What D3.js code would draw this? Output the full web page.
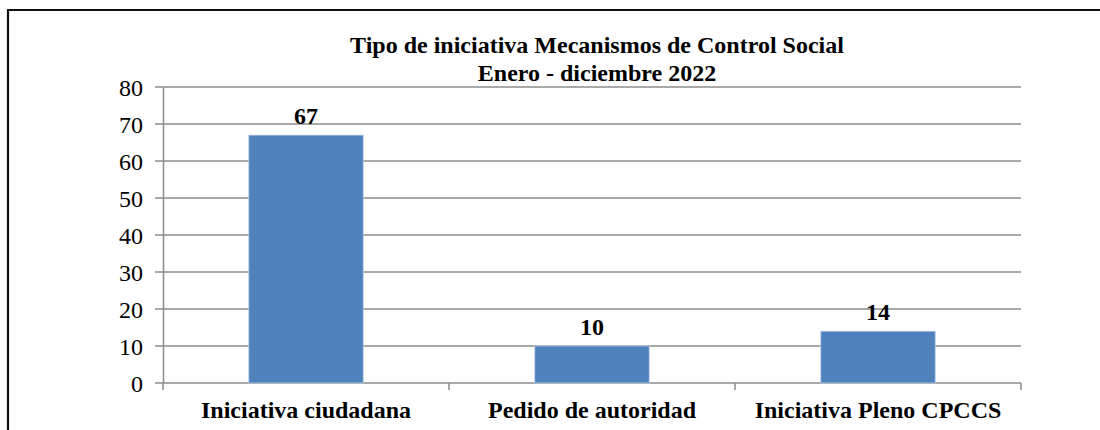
<!DOCTYPE html>
<html>
<head>
<meta charset="utf-8">
<script src="https://cdn.jsdelivr.net/npm/d3@7"></script>
<style>
  body { margin: 0; background: #ffffff; }
  svg text { font-family: "Liberation Serif", "Times New Roman", Times, serif !important; fill: #000; }
</style>
</head>
<body>
<svg></svg>
<script>
const categories = ['Iniciativa ciudadana', 'Pedido de autoridad', 'Iniciativa Pleno CPCCS']
const values = [67, 10, 14]
const yTicks = [0, 10, 20, 30, 40, 50, 60, 70, 80]
const titleLines = ['Tipo de iniciativa Mecanismos de Control Social', 'Enero - diciembre 2022']

// size
const svgWidth = 1100
const svgHeight = 430
const margin = {left: 163, right: 79, top: 87, bottom: 47}

const svg = d3.select('svg')
  .attr('width', svgWidth)
  .attr('height', svgHeight)

// outer frame (only top and left edges show in the crop)
svg.append('path')
  .attr('d', `M8,${svgHeight + 5}V10H${svgWidth + 5}`)
  .attr('fill', 'none')
  .attr('stroke', '#111')
  .attr('stroke-width', 2.2)

const xScale = d3.scaleBand()
  .domain(categories)
  .range([margin.left, svgWidth - margin.right])
  .paddingInner(0.6)
  .paddingOuter(0.3)

const yScale = d3.scaleLinear()
  .domain([0, 80])
  .range([svgHeight - margin.bottom, margin.top])

// gridlines (they also make the little ticks left of the axis)
svg.append('g')
  .selectAll('line')
  .data(yTicks)
  .enter()
  .append('line')
  .attr('x1', margin.left - 8)
  .attr('x2', svgWidth - margin.right)
  .attr('y1', d => yScale(d))
  .attr('y2', d => yScale(d))
  .attr('stroke', '#8c8c8c')
  .attr('stroke-width', 1.5)

// y axis
const yAxis = d3.axisLeft(yScale).tickValues(yTicks).tickSize(0).tickPadding(20)
const yG = svg.append('g')
  .attr('transform', `translate(${margin.left}, 0)`)
  .call(yAxis)
yG.attr('font-family', null)
yG.select('.domain').attr('stroke', '#8c8c8c').attr('stroke-width', 1.5)
yG.selectAll('text')
  .attr('font-size', 24)
  .attr('dy', '0.34em')

// x axis category ticks
const xEdges = categories.map(c => xScale(c) - xScale.step() * xScale.paddingInner() / 2)
xEdges.push(svgWidth - margin.right)
svg.append('g')
  .selectAll('line')
  .data(xEdges)
  .enter()
  .append('line')
  .attr('x1', d => d)
  .attr('x2', d => d)
  .attr('y1', yScale(0))
  .attr('y2', yScale(0) + 7)
  .attr('stroke', '#8c8c8c')
  .attr('stroke-width', 1.5)

// bars
svg.append('g')
  .selectAll('rect')
  .data(values)
  .enter()
  .append('rect')
  .attr('x', (d, i) => xScale(categories[i]))
  .attr('y', d => yScale(d))
  .attr('width', xScale.bandwidth())
  .attr('height', d => yScale(0) - yScale(d))
  .attr('fill', '#4f81bd')
  .attr('stroke', '#b9cde5')
  .attr('stroke-width', 0.8)

// value labels
svg.append('g')
  .selectAll('text')
  .data(values)
  .enter()
  .append('text')
  .text(d => d)
  .attr('x', (d, i) => xScale(categories[i]) + xScale.bandwidth() / 2)
  .attr('y', d => yScale(d) - 11)
  .attr('text-anchor', 'middle')
  .attr('font-size', 24)
  .attr('font-weight', 'bold')

// category labels
svg.append('g')
  .selectAll('text')
  .data(categories)
  .enter()
  .append('text')
  .text(d => d)
  .attr('x', d => xScale(d) + xScale.bandwidth() / 2)
  .attr('y', yScale(0) + 35)
  .attr('text-anchor', 'middle')
  .attr('font-size', 24)
  .attr('font-weight', 'bold')

// title
svg.append('g')
  .selectAll('text')
  .data(titleLines)
  .enter()
  .append('text')
  .text(d => d)
  .attr('x', 597)
  .attr('y', (d, i) => 53 + i * 28)
  .attr('text-anchor', 'middle')
  .attr('font-size', 24)
  .attr('font-weight', 'bold')
</script>
</body>
</html>
